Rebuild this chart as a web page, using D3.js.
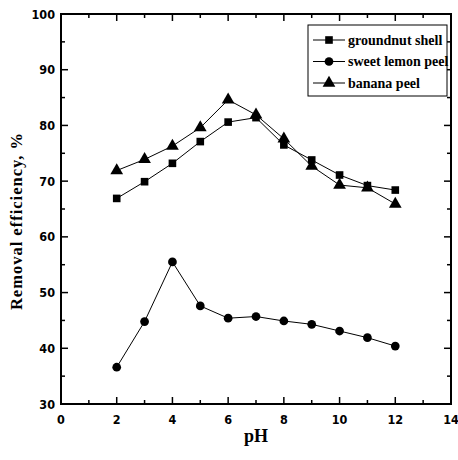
<!DOCTYPE html>
<html>
<head>
<meta charset="utf-8">
<script src="https://cdn.jsdelivr.net/npm/d3@7/dist/d3.min.js"></script>
<style>
  html, body { margin: 0; padding: 0; background: #fff; }
  svg { display: block; }
  .tick-label { font-family: "DejaVu Sans Condensed", "DejaVu Sans", sans-serif; font-stretch: condensed; font-weight: bold; font-size: 12.5px; }
  .title { font-family: "Liberation Serif", "Times New Roman", serif; font-weight: bold; }
</style>
</head>
<body>
<script>
// pH values tested
const pH = [2, 3, 4, 5, 6, 7, 8, 9, 10, 11, 12];

// Removal efficiency (%) for each adsorbent
const groundnutShell = [66.9, 69.9, 73.2, 77.1, 80.6, 81.4, 76.5, 73.8, 71.1, 69.2, 68.4];
const sweetLemonPeel = [36.6, 44.8, 55.5, 47.6, 45.4, 45.7, 44.9, 44.3, 43.1, 41.9, 40.4];
const bananaPeel     = [71.9, 73.9, 76.3, 79.6, 84.6, 81.9, 77.6, 72.7, 69.3, 68.8, 65.9];

const seriesNames = ["groundnut shell", "sweet lemon peel", "banana peel"];

const xTicks = [0, 2, 4, 6, 8, 10, 12, 14];
const yTicks = [30, 40, 50, 60, 70, 80, 90, 100];

const W = 458, H = 460;
const m = { left: 61, right: 7, top: 14, bottom: 56 };

const svg = d3.select("body").append("svg").attr("width", W).attr("height", H);

const x = d3.scaleLinear().domain([0, 14]).range([m.left, W - m.right]);
const y = d3.scaleLinear().domain([30, 100]).range([H - m.bottom, m.top]);

const x0 = x.range()[0], x1 = x.range()[1], y0 = y.range()[0], y1 = y.range()[1];

// Inward ticks on all four sides (major + minor)
const majorLen = 7, minorLen = 4;
const ticksG = svg.append("g").attr("stroke", "#000").attr("stroke-width", 1.5);
d3.range(0, 15, 1).forEach(v => {
  const len = v % 2 === 0 ? majorLen : minorLen;
  ticksG.append("line").attr("x1", x(v)).attr("x2", x(v)).attr("y1", y0).attr("y2", y0 - len);
  ticksG.append("line").attr("x1", x(v)).attr("x2", x(v)).attr("y1", y1).attr("y2", y1 + len);
});
d3.range(30, 101, 5).forEach(v => {
  const len = v % 10 === 0 ? majorLen : minorLen;
  ticksG.append("line").attr("y1", y(v)).attr("y2", y(v)).attr("x1", x0).attr("x2", x0 + len);
  ticksG.append("line").attr("y1", y(v)).attr("y2", y(v)).attr("x1", x1).attr("x2", x1 - len);
});

// Frame
svg.append("rect")
  .attr("x", x0).attr("y", y1).attr("width", x1 - x0).attr("height", y0 - y1)
  .attr("fill", "none").attr("stroke", "#000").attr("stroke-width", 2);

// Tick labels
svg.append("g").selectAll("text").data(xTicks).join("text")
  .attr("class", "tick-label")
  .attr("x", d => x(d)).attr("y", y0 + 20)
  .attr("text-anchor", "middle")
  .text(d => d);

svg.append("g").selectAll("text").data(yTicks).join("text")
  .attr("class", "tick-label")
  .attr("x", x0 - 6).attr("y", d => y(d) + 4.5)
  .attr("text-anchor", "end")
  .text(d => d);

// Axis titles
svg.append("text").attr("class", "title")
  .attr("x", (x0 + x1) / 2).attr("y", 442)
  .attr("text-anchor", "middle").attr("font-size", 18)
  .text("pH");

svg.append("text").attr("class", "title")
  .attr("transform", `translate(22, ${(y0 + y1) / 2 + 12}) rotate(-90)`)
  .attr("text-anchor", "middle").attr("font-size", 16.5)
  .attr("letter-spacing", 1)
  .text("Removal efficiency, %");

// Series
const line = d3.line().x((d, i) => x(pH[i])).y(d => y(d));
const symbols = [d3.symbolSquare, d3.symbolCircle, d3.symbolTriangle];
const symSizes = [58, 60, 70];
const data = [groundnutShell, sweetLemonPeel, bananaPeel];

data.forEach((vals, k) => {
  svg.append("path").datum(vals)
    .attr("d", line).attr("fill", "none").attr("stroke", "#000").attr("stroke-width", 1);
  svg.append("g").selectAll("path").data(vals).join("path")
    .attr("transform", (d, i) => `translate(${x(pH[i])},${y(d)})`)
    .attr("d", d3.symbol().type(symbols[k]).size(symSizes[k]))
    .attr("fill", "#000");
});

// Legend
const lg = svg.append("g");
lg.append("rect").attr("x", 308).attr("y", 25).attr("width", 139).attr("height", 71)
  .attr("fill", "#fff").attr("stroke", "#000").attr("stroke-width", 1);
seriesNames.forEach((name, k) => {
  const ly = 40 + k * 21.5;
  lg.append("line").attr("x1", 313).attr("x2", 345).attr("y1", ly).attr("y2", ly)
    .attr("stroke", "#000").attr("stroke-width", 1);
  lg.append("path").attr("transform", `translate(329,${ly})`)
    .attr("d", d3.symbol().type(symbols[k]).size(symSizes[k])).attr("fill", "#000");
  lg.append("text").attr("class", "title")
    .attr("x", 348).attr("y", ly + 4.5).attr("font-size", 14)
    .text(name);
});
</script>
</body>
</html>
